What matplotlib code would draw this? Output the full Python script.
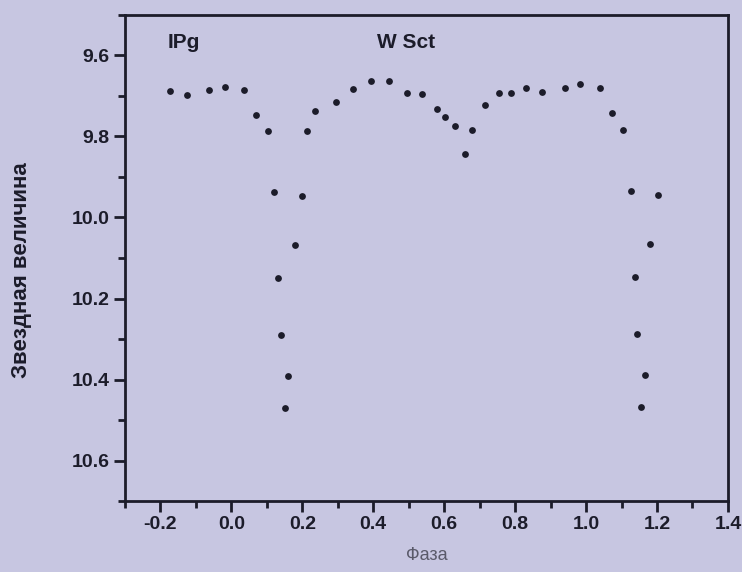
import matplotlib
matplotlib.use("Agg")
import matplotlib.pyplot as plt
from matplotlib.ticker import MultipleLocator

phase = [-0.173, -0.126, -0.062, -0.019, 0.036, 0.070, 0.103, 0.121, 0.132, 0.141,
         0.152, 0.160, 0.178, 0.198, 0.213, 0.235, 0.296, 0.343, 0.394, 0.445,
         0.495, 0.538, 0.580, 0.603, 0.630, 0.660, 0.678, 0.715, 0.754, 0.788,
         0.830, 0.875, 0.940, 0.984, 1.039, 1.072, 1.105, 1.127, 1.137, 1.145,
         1.155, 1.166, 1.181, 1.203]
magnitude = [9.688, 9.698, 9.686, 9.677, 9.686, 9.747, 9.787, 9.938, 10.149, 10.291,
             10.471, 10.391, 10.069, 9.948, 9.786, 9.736, 9.715, 9.683, 9.663, 9.663,
             9.693, 9.694, 9.733, 9.753, 9.774, 9.844, 9.783, 9.722, 9.692, 9.692,
             9.681, 9.691, 9.681, 9.671, 9.681, 9.742, 9.783, 9.935, 10.147, 10.288,
             10.469, 10.389, 10.066, 9.945]
x_ticks = [-0.2, 0.0, 0.2, 0.4, 0.6, 0.8, 1.0, 1.2, 1.4]
x_tick_labels = ["-0.2", "0.0", "0.2", "0.4", "0.6", "0.8", "1.0", "1.2", "1.4"]
y_ticks = [9.6, 9.8, 10.0, 10.2, 10.4, 10.6]
y_tick_labels = ["9.6", "9.8", "10.0", "10.2", "10.4", "10.6"]

bg = "#c7c6e1"
ink = "#1c1c2a"

plt.rcParams['font.family'] = ['Liberation Sans', 'DejaVu Sans']

fig = plt.figure(figsize=(7.42, 5.72), dpi=100, facecolor=bg)
ax = fig.add_axes([0.1685, 0.1241, 0.8125, 0.8497], facecolor=bg)

ax.scatter(phase, magnitude, s=24, color=ink, zorder=3, linewidths=0)

ax.set_xlim(-0.3, 1.4)
ax.set_ylim(10.7, 9.5)
ax.xaxis.set_minor_locator(MultipleLocator(0.1))
ax.yaxis.set_minor_locator(MultipleLocator(0.1))
ax.set_xticks(x_ticks)
ax.set_xticklabels(x_tick_labels)
ax.set_yticks(y_ticks)
ax.set_yticklabels(y_tick_labels)

for sp in ax.spines.values():
    sp.set_linewidth(2)
    sp.set_color(ink)

ax.tick_params(axis='both', which='major', direction='out', length=8, width=2,
               color=ink, labelsize=14, labelcolor=ink, pad=3)
ax.tick_params(axis='both', which='minor', direction='out', length=5, width=2, color=ink)
for lab in ax.get_xticklabels() + ax.get_yticklabels():
    lab.set_fontweight('bold')

ax.set_ylabel("Звездная величина", fontsize=16, fontweight='bold', color=ink)
ax.yaxis.set_label_coords(-0.155, 0.475)
ax.set_xlabel("Фаза", fontsize=13, color="#5a5a6a", labelpad=10)

ax.text(0.071, 0.962, "IPg", transform=ax.transAxes, fontsize=15, fontweight='bold',
        color=ink, va='top', ha='left')
ax.text(0.418, 0.962, "W Sct", transform=ax.transAxes, fontsize=15, fontweight='bold',
        color=ink, va='top', ha='left')

fig.savefig("out.png", dpi=100, facecolor=bg)
